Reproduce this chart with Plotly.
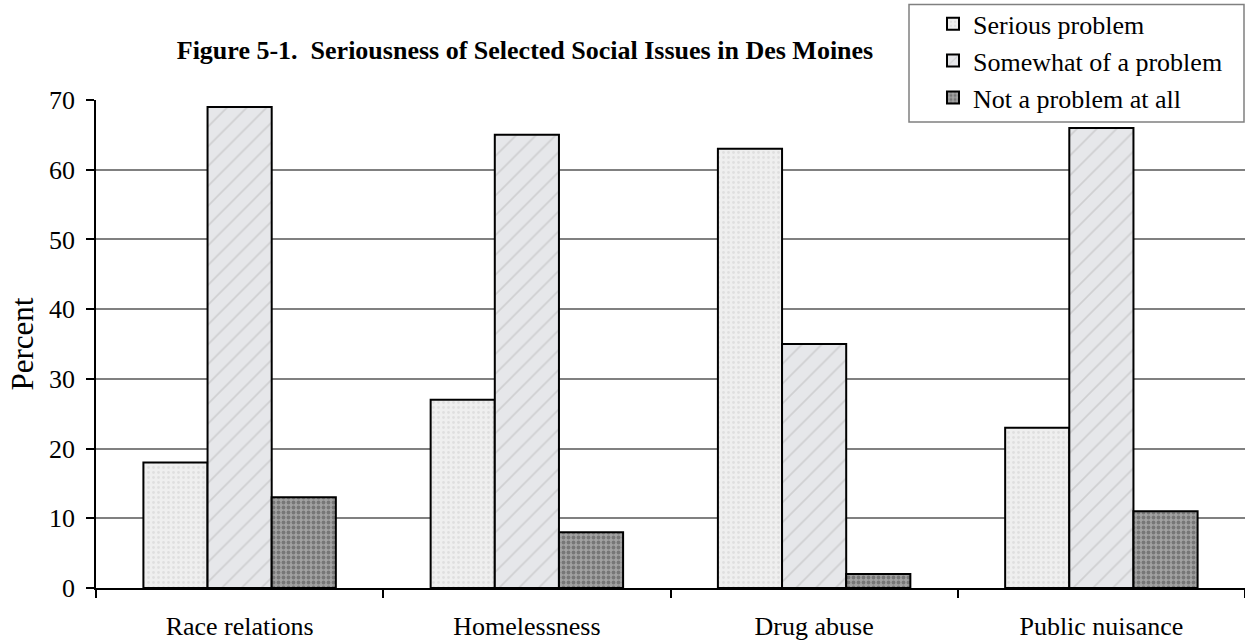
import plotly.graph_objects as go

categories = ["Race relations", "Homelessness", "Drug abuse", "Public nuisance"]
series_names = ["Serious problem", "Somewhat of a problem", "Not a problem at all"]
serious = [18, 27, 63, 23]
somewhat = [69, 65, 35, 66]
not_at_all = [13, 8, 2, 11]
y_ticks = [0, 10, 20, 30, 40, 50, 60, 70]

styles = [
    dict(bg="#efefef", fg="#d0d0d0", shape=".", size=5, solidity=0.25),
    dict(bg="#e6e7ea", fg="#b8b8b8", shape="/", size=14, solidity=0.12),
    dict(bg="#a2a2a2", fg="#4c4c4c", shape=".", size=5, solidity=0.45),
]

fig = go.Figure()
for name, vals, st in zip(series_names, [serious, somewhat, not_at_all], styles):
    fig.add_trace(go.Bar(
        x=categories, y=vals, name=name, legendgroup=name,
        marker=dict(
            color=st["bg"],
            line=dict(color="black", width=2),
            pattern=dict(shape=st["shape"], fgcolor=st["fg"], bgcolor=st["bg"],
                         size=st["size"], solidity=st["solidity"]),
        ),
    ))

# plot area: x 96..1245 px, y 98..588 px
fig.update_layout(
    width=1245, height=643,
    margin=dict(l=96, r=0, t=98, b=55),
    barmode="group", bargap=0.33, bargroupgap=0,
    plot_bgcolor="white", paper_bgcolor="white",
    font=dict(family="Liberation Serif", size=26, color="black"),
    title=dict(
        text="<b>Figure 5-1.\u00a0 Seriousness of Selected Social Issues in Des Moines</b>",
        x=525 / 1245, xanchor="center", y=1 - 50 / 643, yanchor="middle",
        font=dict(family="Liberation Serif", size=26, color="black"),
    ),
    legend=dict(
        x=(933 - 96) / 1149, xanchor="left", y=590 / 490, yanchor="top",
        borderwidth=0, bgcolor="rgba(0,0,0,0)",
        font=dict(family="Liberation Serif", size=26, color="black"),
        traceorder="grouped", tracegroupgap=0,
    ),
    showlegend=True,
    shapes=[dict(
        type="rect", xref="paper", yref="paper",
        x0=(909 - 96) / 1149, x1=(1244 - 96) / 1149,
        y0=(588 - 120) / 490, y1=(588 - 2) / 490,
        line=dict(color="#808080", width=1.5), fillcolor="white", layer="above",
    )],
)

fig.update_xaxes(
    range=[-0.5, 3.5], showline=True, linecolor="black", linewidth=1.5,
    ticks="outside", tickson="boundaries", ticklen=8, tickcolor="black", tickwidth=1.5,
    showgrid=False, ticklabelstandoff=14, automargin=False,
)
fig.update_yaxes(
    range=[0, 70], tickvals=y_ticks, showline=True, linecolor="black", linewidth=1.5,
    ticks="outside", ticklen=8, tickcolor="black", tickwidth=1.5,
    showgrid=True, gridcolor="#808080", gridwidth=2, zeroline=False,
    title=dict(text="Percent", standoff=6),
    ticklabelstandoff=6, automargin=False,
)

fig.write_html("out.html", config={"displayModeBar": False},
               post_script="document.body.style.margin='0px';")
